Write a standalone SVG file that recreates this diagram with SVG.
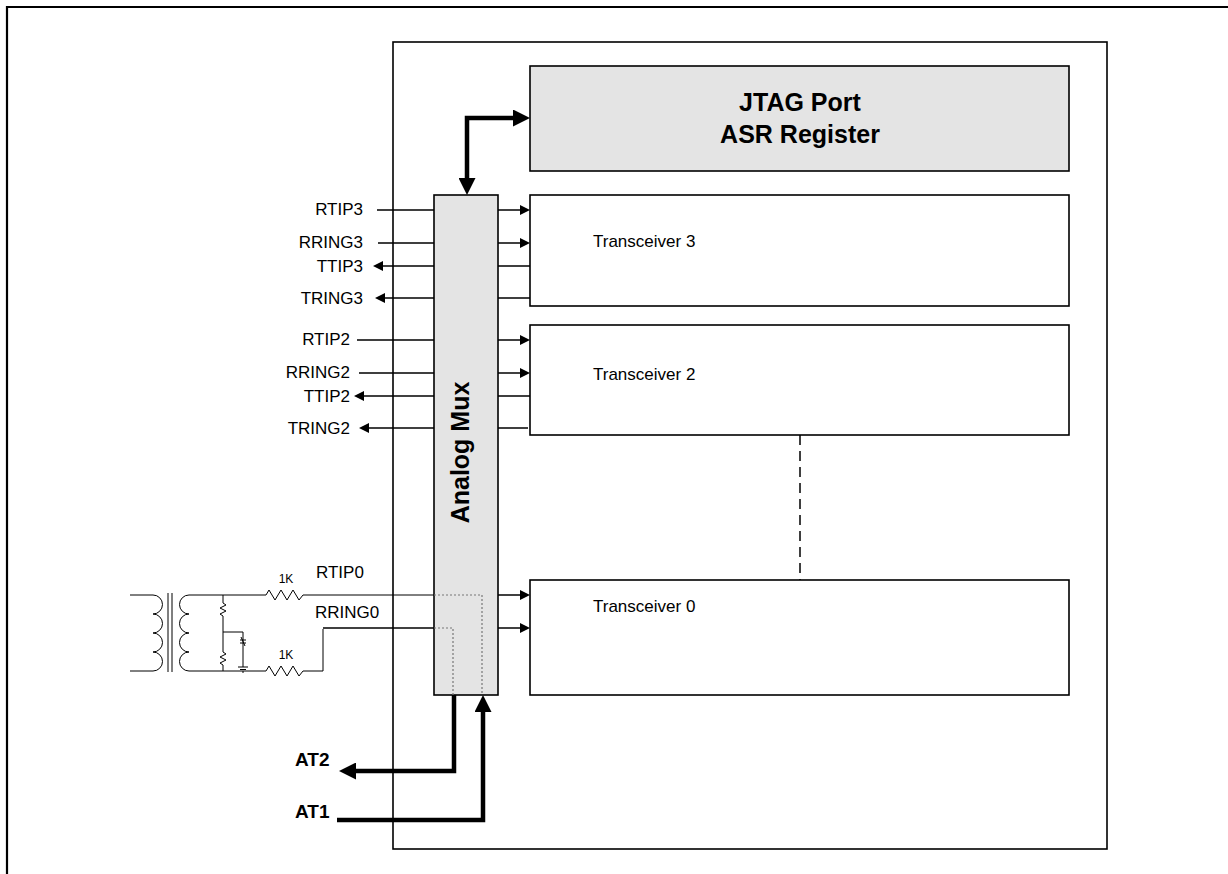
<svg xmlns="http://www.w3.org/2000/svg" width="1228" height="874" viewBox="0 0 1228 874">
<style>
.box{fill:#fff;stroke:#000;stroke-width:1.6}
.gbox{fill:#e4e4e4;stroke:#000;stroke-width:1.6}
.ln{fill:none;stroke:#000;stroke-width:1.5}
.thin{fill:none;stroke:#000;stroke-width:1}
.thick{fill:none;stroke:#000;stroke-width:4.5;stroke-linejoin:miter}
.dot{fill:none;stroke:#777;stroke-width:1.2;stroke-dasharray:2,2}
.lbl{font-family:"Liberation Sans",Arial,sans-serif;font-size:17px;fill:#000}
.big{font-family:"Liberation Sans",Arial,sans-serif;font-size:25px;font-weight:bold;fill:#000}
.at{font-family:"Liberation Sans",Arial,sans-serif;font-size:19px;font-weight:bold;fill:#000}
.sm{font-family:"Liberation Sans",Arial,sans-serif;font-size:12px;fill:#000}
</style>
<defs>
<marker id="sa" viewBox="0 0 10 10" refX="0" refY="5" markerWidth="10" markerHeight="10" markerUnits="userSpaceOnUse" orient="auto"><path d="M0,0 L10,5 L0,10 z" fill="#000"/></marker>
<marker id="ba" viewBox="0 0 17 17" refX="0" refY="8.5" markerWidth="17" markerHeight="17" markerUnits="userSpaceOnUse" orient="auto"><path d="M0,0 L17,8.5 L0,17 z" fill="#000"/></marker>
<marker id="bas" viewBox="0 0 17 17" refX="0" refY="8.5" markerWidth="17" markerHeight="17" markerUnits="userSpaceOnUse" orient="auto-start-reverse"><path d="M0,0 L17,8.5 L0,17 z" fill="#000"/></marker>
</defs>
<rect width="1228" height="874" fill="#fff"/>
<path d="M7,874 V7 H1228" fill="none" stroke="#000" stroke-width="2.2"/>
<g id="chip"><rect class="box" x="393" y="42" width="714" height="807"/></g>
<g id="jtag"><rect class="gbox" x="530" y="66" width="539" height="105"/>
<text class="big" x="800" y="111" text-anchor="middle">JTAG Port</text>
<text class="big" x="800" y="143" text-anchor="middle">ASR Register</text></g>
<g id="transceiver3"><rect class="box" x="530" y="195" width="539" height="111"/>
<text class="lbl" x="593" y="247">Transceiver 3</text></g>
<g id="transceiver2"><rect class="box" x="530" y="325" width="539" height="110"/>
<text class="lbl" x="593" y="380">Transceiver 2</text></g>
<g id="transceiver0"><rect class="box" x="530" y="580" width="539" height="115"/>
<text class="lbl" x="593" y="612">Transceiver 0</text></g>
<g id="mux"><rect class="gbox" x="434" y="195" width="64" height="500"/>
<path class="dot" d="M434,595 H482 V695 M434,628 H453 V695"/>
<text class="big" transform="translate(469,452.5) rotate(-90)" text-anchor="middle">Analog Mux</text></g>
<g id="transformer">
<path class="thin" d="M130,595 H153 A9.5 9.5 0 0 1 153,614 A9.5 9.5 0 0 1 153,633 A9.5 9.5 0 0 1 153,652 A9.5 9.5 0 0 1 153,671 H130"/>
<path class="thin" d="M168,593 V672 M172,593 V672"/>
<path class="thin" d="M266,595 H189 A9.5 9.5 0 0 0 189,614 A9.5 9.5 0 0 0 189,633 A9.5 9.5 0 0 0 189,652 A9.5 9.5 0 0 0 189,671 H266"/>
<path class="thin" d="M223,595 V603 L226,605 L220,608 L226,611 L220,614 L223,616 V652 L226,654 L220,657 L226,660 L220,663 L223,665 V671"/>
<path class="thin" d="M223,632 H243 V667 M238,667 H248 M240,669.5 H246 M242,672 H244"/>
<path class="thin" d="M240,640 H246 M240,643 H246 M241,637 L245,646"/>
<path class="thin" d="M266,595 L269,590 L275,600 L281,590 L287,600 L293,590 L299,600 L303,595 H434"/>
<path class="thin" d="M266,671 L269,666 L275,676 L281,666 L287,676 L293,666 L299,676 L303,671 H323 V629"/>
<path class="ln" d="M323,628 H434"/>
<text class="sm" x="286" y="583" text-anchor="middle">1K</text>
<text class="sm" x="286" y="659" text-anchor="middle">1K</text>
</g>
<g id="connectors">
<path class="ln" d="M377,210 H434 M378,243 H434" />
<path class="ln" d="M434,266 H383" marker-end="url(#sa)"/>
<path class="ln" d="M434,298 H385" marker-end="url(#sa)"/>
<path class="ln" d="M357,340 H434 M359,373 H434"/>
<path class="ln" d="M434,396 H364" marker-end="url(#sa)"/>
<path class="ln" d="M434,428 H369" marker-end="url(#sa)"/>
<path class="ln" d="M498,210 H520" marker-end="url(#sa)"/>
<path class="ln" d="M498,243 H520" marker-end="url(#sa)"/>
<path class="ln" d="M498,266 H530 M498,298 H530"/>
<path class="ln" d="M498,340 H520" marker-end="url(#sa)"/>
<path class="ln" d="M498,373 H520" marker-end="url(#sa)"/>
<path class="ln" d="M498,396 H530 M498,428 H528"/>
<path class="ln" d="M498,595 H520" marker-end="url(#sa)"/>
<path class="ln" d="M498,628 H520" marker-end="url(#sa)"/>
<path class="ln" d="M800,435 V580" stroke-dasharray="10,6"/>
<path class="thick" d="M467,178 V118 H513" marker-start="url(#bas)" marker-end="url(#ba)"/>
<path class="thick" d="M454,695 V771 H356" marker-end="url(#ba)"/>
<path class="thick" d="M337,820 H483 V712" marker-end="url(#ba)"/>
</g>
<g id="labels">
<text class="lbl" x="363" y="215" text-anchor="end">RTIP3</text>
<text class="lbl" x="363" y="248" text-anchor="end">RRING3</text>
<text class="lbl" x="363" y="272" text-anchor="end">TTIP3</text>
<text class="lbl" x="363" y="304" text-anchor="end">TRING3</text>
<text class="lbl" x="350" y="345" text-anchor="end">RTIP2</text>
<text class="lbl" x="350" y="378" text-anchor="end">RRING2</text>
<text class="lbl" x="350" y="402" text-anchor="end">TTIP2</text>
<text class="lbl" x="350" y="434" text-anchor="end">TRING2</text>
<text class="lbl" x="316" y="578">RTIP0</text>
<text class="lbl" x="315" y="618">RRING0</text>
<text class="at" x="295" y="766">AT2</text>
<text class="at" x="295" y="818">AT1</text>
</g>
</svg>
